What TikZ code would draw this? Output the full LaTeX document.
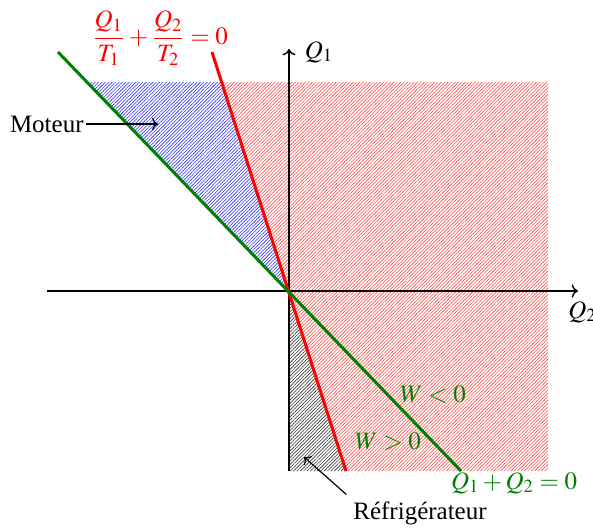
\documentclass[tikz,border=0pt]{standalone}
\usepackage{amsmath}
\usepackage{mathptmx}
\usepackage{fontspec}
\setmainfont{Liberation Serif}
\usetikzlibrary{positioning,calc,arrows.meta,patterns.meta}

\definecolor{engred}{HTML}{FF0000}
\definecolor{workgreen}{HTML}{008000}

\begin{document}
\begin{tikzpicture}[
    x=0.5pt,
    y=-0.5pt,
    font=\fontsize{12.5}{15}\selectfont,
    >=To,
    axis/.style={line width=0.7pt, ->},
    border/.style={line width=1.5pt},
    hatch/.style={pattern={Lines[angle=45,distance=1.2pt,line width=0.3pt]}},
    pointer/.style={line width=0.6pt, ->}
]
\useasboundingbox (0,0) rectangle (593,527);

% Coordinates (pixels of the sketch, y downwards)
\coordinate (O) at (289,291);
\coordinate (xmin) at (47,291);
\coordinate (xmax) at (578,291);
\coordinate (ymin) at (289,471);
\coordinate (ymax) at (289,49);
\coordinate (redtop) at (212,52);
\coordinate (redbot) at (346,471);
\coordinate (greentop) at (58,52);
\coordinate (greenbot) at (461,471);

% Hatched domains
\fill[hatch, pattern color=engred!70] (221,82) -- (548,82) -- (548,471) -- (redbot) -- (O) -- cycle;
\fill[hatch, pattern color=blue!80] (88,82) -- (221,82) -- (O) -- cycle;
\fill[hatch, pattern color=black!80] (O) -- (redbot) -- (ymin) -- cycle;

% Axes
\draw[axis] (xmin) -- (xmax);
\draw[axis] (ymin) -- (ymax);
\node (q1) at (319,52) {$Q_1$};
\node[anchor=west, inner sep=0pt] (q2) at (568,312) {$Q_2$};

% Boundary lines
\draw[border, engred] (redtop) -- (redbot);
\draw[border, workgreen] (greentop) -- (greenbot);

\node[text=engred] (clausius) at (160,38) {$\dfrac{Q_1}{T_1}+\dfrac{Q_2}{T_2}=0$};
\node[text=workgreen] (first) at (514,483) {$Q_1+Q_2=0$};
\node[text=workgreen] (wneg) at (433,395) {$W<0$};
\node[text=workgreen] (wpos) at (388,442) {$W>0$};

% Region names
\node[anchor=east, inner sep=1pt] (moteur) at (86,124) {Moteur};
\coordinate (motip) at (158,124);
\draw[pointer] (moteur.east) -- (motip);

\node (frigo) at (420,513) {Réfrigérateur};
\coordinate (frtip) at (304,457);
\draw[pointer] (frigo.north west) -- (frtip);

\end{tikzpicture}
\end{document}
